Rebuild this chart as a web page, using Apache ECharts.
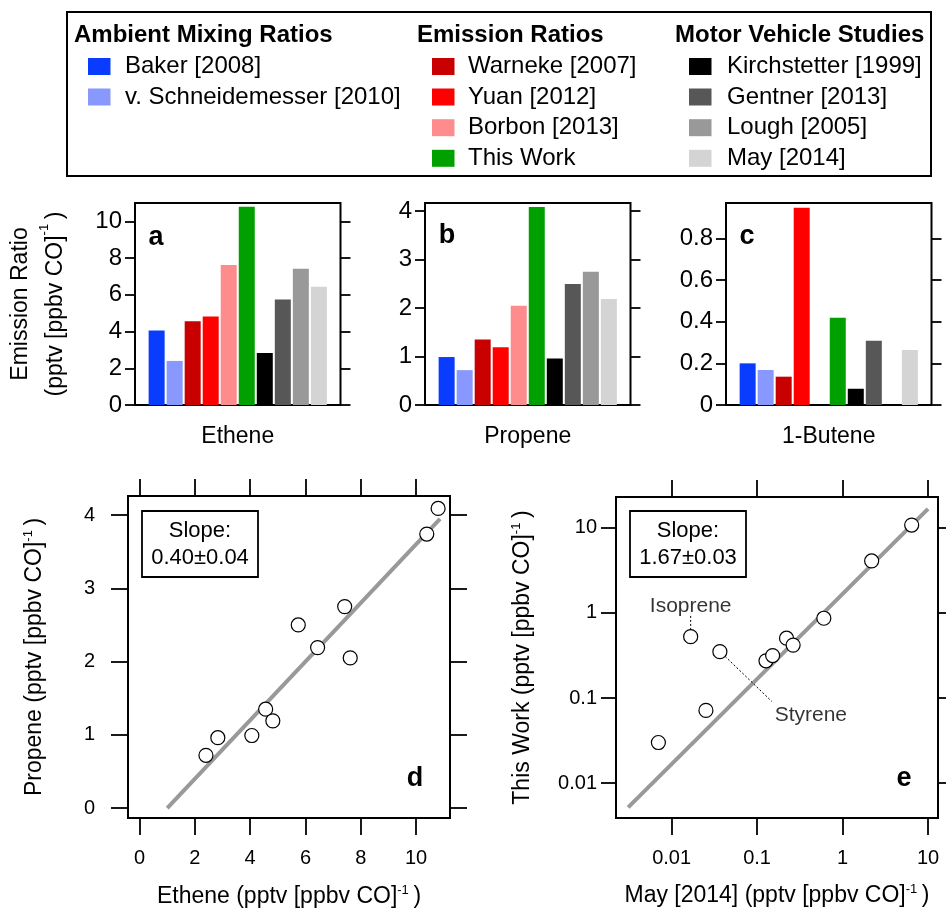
<!DOCTYPE html>
<html>
<head>
<meta charset="utf-8">
<script src="https://cdn.jsdelivr.net/npm/echarts@6/dist/echarts.min.js"></script>
<style>
  html, body { margin: 0; padding: 0; background: #fff; }
  #chart { width: 946px; height: 915px; }
</style>
</head>
<body>
<div id="chart"></div>
<script>
// ---- data ----
const studies = ['Baker [2008]', 'v. Schneidemesser [2010]', 'Warneke [2007]', 'Yuan [2012]',
  'Borbon [2013]', 'This Work', 'Kirchstetter [1999]', 'Gentner [2013]', 'Lough [2005]', 'May [2014]'];
const studyColors = ['#0a3cff', '#8898ff', '#c80000', '#ff0000', '#ff8c8c',
  '#00a000', '#000000', '#575757', '#999999', '#d4d4d4'];
const groupTitles = ['Ambient Mixing Ratios', 'Emission Ratios', 'Motor Vehicle Studies'];
const groupMembers = [[0, 1], [2, 3, 4, 5], [6, 7, 8, 9]];

// emission ratios, pptv per ppbv CO (null = not reported)
const ethene  = [4.06, 2.40, 4.56, 4.82, 7.62, 10.8, 2.83, 5.74, 7.42, 6.44];
const propene = [0.99, 0.72, 1.35, 1.19, 2.05, 4.09, 0.96, 2.50, 2.75, 2.19];
const butene  = [0.200, 0.168, 0.136, 0.947, null, 0.419, 0.078, 0.309, null, 0.264];
// one further ethene/propene pair shown only in the scatter
const extraEthene = 10.39;
const extraPropene = 3.74;

// compound-by-compound comparison: May [2014] vs this work
const mayRatios      = [0.0070, 0.0252, 0.0167, 0.0367, 0.127, 0.152, 0.221, 0.264, 0.604, 2.19, 6.44];
const thisWorkRatios = [0.030, 0.0716, 0.527, 0.351, 0.274, 0.316, 0.505, 0.419, 0.867, 4.09, 10.8];
const isopreneIdx = 2;
const styreneIdx = 3;

// fits
const slopeD = 0.40, interceptD = -0.40, fitRangeD = [1.0, 10.87];
const slopeE = 1.67, fitRangeE = [0.0031, 10];

// tick values
const ticksA = [0, 2, 4, 6, 8, 10];
const ticksB = [0, 1, 2, 3, 4];
const ticksC = [0, 0.2, 0.4, 0.6, 0.8];
const ticksDx = [0, 2, 4, 6, 8, 10];
const ticksDy = [0, 1, 2, 3, 4];
const ticksE = [0.01, 0.1, 1, 10];

// ---- styling ----
const FONT = '"Liberation Sans", Arial, Helvetica, sans-serif';
const supRich = { sup: { fontSize: 13, lineHeight: 13, verticalAlign: 'top', fontFamily: FONT, color: '#000' } };
const unitText = '(pptv [ppbv CO]{sup|-1}\u2009)';

const chart = echarts.init(document.getElementById('chart'), null, { renderer: 'canvas' });

const grids = [];
const xAxes = [];
const yAxes = [];
const series = [];

function frameGrid(left, top, width, height) {
  grids.push({ left, top, width, height, show: true, borderColor: '#000', borderWidth: 2,
    backgroundColor: 'transparent', containLabel: false, outerBoundsMode: 'none' });
  return grids.length - 1;
}

function tickAxis(base, ticks, len, showLabel, labelOpt) {
  return Object.assign({
    axisLine: { show: false, onZero: false },
    splitLine: { show: false },
    axisTick: { show: true, inside: false, length: len, customValues: ticks,
      lineStyle: { color: '#000', width: 1.8 } },
    axisLabel: Object.assign({ show: showLabel, customValues: ticks, color: '#000',
      fontFamily: FONT }, labelOpt || {})
  }, base);
}

// ---- bar panels a, b, c ----
const barPanels = [
  { left: 135, values: ethene, max: 11, ticks: ticksA, name: 'Ethene' },
  { left: 425, values: propene, max: 4.17, ticks: ticksB, name: 'Propene' },
  { left: 726, values: butene, max: 0.97, ticks: ticksC, name: '1-Butene' }
];

barPanels.forEach((p, k) => {
  const g = frameGrid(p.left, 203, 205.5, 202);
  const xi = xAxes.length;
  xAxes.push({
    type: 'value', gridIndex: g, min: -1.2, max: 10.2, position: 'bottom',
    axisLine: { show: false, onZero: false }, axisTick: { show: false }, axisLabel: { show: false },
    splitLine: { show: false },
    name: p.name, nameLocation: 'middle', nameGap: 20,
    nameTextStyle: { fontFamily: FONT, fontSize: 23, color: '#000' }
  });
  const yi = yAxes.length;
  const leftAxis = tickAxis({ type: 'value', gridIndex: g, min: 0, max: p.max, position: 'left' },
    p.ticks, 10, true, { fontSize: 24, margin: 13 });
  if (k === 0) {
    Object.assign(leftAxis, {
      name: 'Emission Ratio\n' + unitText,
      nameLocation: 'middle', nameRotate: 90, nameGap: 62,
      nameTextStyle: { fontFamily: FONT, fontSize: 23, lineHeight: 35, color: '#000', rich: supRich, align: 'center' }
    });
  }
  yAxes.push(leftAxis);
  yAxes.push(tickAxis({ type: 'value', gridIndex: g, min: 0, max: p.max, position: 'right' },
    p.ticks, 10, false));
  series.push({
    type: 'bar', xAxisIndex: xi, yAxisIndex: yi, barWidth: 16, silent: true,
    data: p.values.map((v, i) => v == null ? null : { value: [i, v], itemStyle: { color: studyColors[i] } })
      .filter(d => d !== null),
    animation: false
  });
});

// ---- scatter panel d ----
(function () {
  const g = frameGrid(128, 496, 322, 322);
  const xi = xAxes.length;
  xAxes.push(tickAxis({ type: 'value', gridIndex: g, min: -0.42, max: 11.23, position: 'bottom',
    name: 'Ethene ' + unitText, nameLocation: 'middle', nameGap: 66,
    nameTextStyle: { fontFamily: FONT, fontSize: 23, lineHeight: 26, color: '#000', rich: supRich } },
    ticksDx, 17, true, { fontSize: 20, margin: 30 }));
  xAxes.push(tickAxis({ type: 'value', gridIndex: g, min: -0.42, max: 11.23, position: 'top' },
    ticksDx, 17, false));
  const yi = yAxes.length;
  yAxes.push(tickAxis({ type: 'value', gridIndex: g, min: -0.136, max: 4.26, position: 'left',
    name: 'Propene ' + unitText, nameLocation: 'middle', nameRotate: 90, nameGap: 80,
    nameTextStyle: { fontFamily: FONT, fontSize: 23, lineHeight: 26, color: '#000', rich: supRich } },
    ticksDy, 17, true, { fontSize: 20, margin: 33 }));
  yAxes.push(tickAxis({ type: 'value', gridIndex: g, min: -0.136, max: 4.26, position: 'right' },
    ticksDy, 17, false));

  series.push({
    type: 'line', xAxisIndex: xi, yAxisIndex: yi, showSymbol: false, silent: true, z: 2,
    lineStyle: { color: '#999', width: 4 }, animation: false,
    data: fitRangeD.map(x => [x, slopeD * x + interceptD])
  });
  const pts = ethene.map((e, i) => [e, propene[i]]);
  pts.push([extraEthene, extraPropene]);
  series.push({
    type: 'scatter', xAxisIndex: xi, yAxisIndex: yi, symbol: 'circle', symbolSize: 14, z: 3,
    itemStyle: { color: '#fff', borderColor: '#000', borderWidth: 1.2, opacity: 1 },
    silent: true, animation: false, data: pts
  });
})();

// ---- log-log panel e ----
(function () {
  const g = frameGrid(616, 497, 322, 321);
  const xi = xAxes.length;
  xAxes.push(tickAxis({ type: 'log', logBase: 10, gridIndex: g, min: 0.002234, max: 13.09, position: 'bottom',
    name: 'May [2014] ' + unitText, nameLocation: 'middle', nameGap: 65,
    nameTextStyle: { fontFamily: FONT, fontSize: 23, lineHeight: 26, color: '#000', rich: supRich } },
    ticksE, 17, true, { fontSize: 20, margin: 30 }));
  xAxes.push(tickAxis({ type: 'log', logBase: 10, gridIndex: g, min: 0.002234, max: 13.09, position: 'top' },
    ticksE, 17, false));
  const yi = yAxes.length;
  yAxes.push(tickAxis({ type: 'log', logBase: 10, gridIndex: g, min: 0.00389, max: 23.07, position: 'left',
    name: 'This Work ' + unitText, nameLocation: 'middle', nameRotate: 90, nameGap: 80,
    nameTextStyle: { fontFamily: FONT, fontSize: 23, lineHeight: 26, color: '#000', rich: supRich } },
    ticksE, 15, true, { fontSize: 20, margin: 19 }));
  yAxes.push(tickAxis({ type: 'log', logBase: 10, gridIndex: g, min: 0.00389, max: 23.07, position: 'right' },
    ticksE, 15, false));

  series.push({
    type: 'line', xAxisIndex: xi, yAxisIndex: yi, showSymbol: false, silent: true, z: 2,
    lineStyle: { color: '#999', width: 4 }, animation: false,
    data: fitRangeE.map(x => [x, slopeE * x])
  });
  // leader lines for the labelled compounds
  const isoX = mayRatios[isopreneIdx], isoY = thisWorkRatios[isopreneIdx];
  const styX = mayRatios[styreneIdx], styY = thisWorkRatios[styreneIdx];
  series.push({
    type: 'line', xAxisIndex: xi, yAxisIndex: yi, showSymbol: false, silent: true, z: 2,
    lineStyle: { color: '#000', width: 1, type: [2, 2] }, animation: false,
    data: [[isoX, isoY * 1.2], [isoX, isoY * 1.86]]
  });
  series.push({
    type: 'line', xAxisIndex: xi, yAxisIndex: yi, showSymbol: false, silent: true, z: 2,
    lineStyle: { color: '#000', width: 1, type: [2, 2] }, animation: false,
    data: [[styX * 1.15, styY * 0.88], [styX * 4.05, styY * 0.26]]
  });
  series.push({
    type: 'scatter', xAxisIndex: xi, yAxisIndex: yi, symbol: 'circle', symbolSize: 14, z: 3,
    itemStyle: { color: '#fff', borderColor: '#000', borderWidth: 1.2, opacity: 1 },
    silent: true, animation: false,
    data: mayRatios.map((x, i) => [x, thisWorkRatios[i]])
  });
  // compound names
  series.push({
    type: 'scatter', xAxisIndex: xi, yAxisIndex: yi, symbolSize: 0, z: 4, silent: true, animation: false,
    label: { show: true, position: 'inside', formatter: p => p.data[2], color: '#000',
      fontFamily: FONT, fontSize: 21 },
    data: [[isoX, isoY * 2.3, 'Isoprene'], [styX * 11.6, styY * 0.18, 'Styrene']]
  });
})();

// ---- legend and annotations ----
const graphic = [];
graphic.push({ type: 'rect', shape: { x: 67, y: 12, width: 864, height: 164 },
  style: { fill: '#fff', stroke: '#000', lineWidth: 2 }, z: 0 });
const colX = [74, 417, 675];
const swatchX = [88, 432, 689];
const labelX = [125, 468, 727];
const rowY = [66.5, 97, 127.7, 158.3];
groupTitles.forEach((t, c) => {
  graphic.push({ type: 'text', x: colX[c], y: 35.5, z: 1,
    style: { text: t, fontFamily: FONT, fontSize: 24, fontWeight: 'bold', fill: '#000',
      align: 'left', verticalAlign: 'middle' } });
  groupMembers[c].forEach((si, r) => {
    graphic.push({ type: 'rect', z: 1, shape: { x: swatchX[c], y: rowY[r] - 8.5, width: 22.5, height: 17 },
      style: { fill: studyColors[si] } });
    graphic.push({ type: 'text', x: labelX[c], y: rowY[r], z: 1,
      style: { text: studies[si], fontFamily: FONT, fontSize: 24, fill: '#000',
        align: 'left', verticalAlign: 'middle' } });
  });
});

// panel letters
[['a', 156, 238], ['b', 447, 236], ['c', 747, 237], ['d', 415, 779], ['e', 904, 779]].forEach(l => {
  graphic.push({ type: 'text', x: l[1], y: l[2], z: 10,
    style: { text: l[0], fontFamily: FONT, fontSize: 27, fontWeight: 'bold', fill: '#000',
      align: 'center', verticalAlign: 'middle' } });
});

// slope boxes
[[142, 'Slope:\n' + slopeD.toFixed(2) + '\u00b10.04'], [630, 'Slope:\n' + slopeE.toFixed(2) + '\u00b10.03']].forEach(b => {
  graphic.push({ type: 'rect', z: 10, shape: { x: b[0], y: 511, width: 116, height: 66 },
    style: { fill: '#fff', stroke: '#000', lineWidth: 1.8 } });
  graphic.push({ type: 'text', z: 11, x: b[0] + 58, y: 544,
    style: { text: b[1], fontFamily: FONT, fontSize: 22, lineHeight: 27, fill: '#000',
      align: 'center', verticalAlign: 'middle' } });
});

chart.setOption({
  animation: false,
  backgroundColor: '#fff',
  grid: grids,
  xAxis: xAxes,
  yAxis: yAxes,
  series: series,
  graphic: graphic
});
</script>
</body>
</html>
